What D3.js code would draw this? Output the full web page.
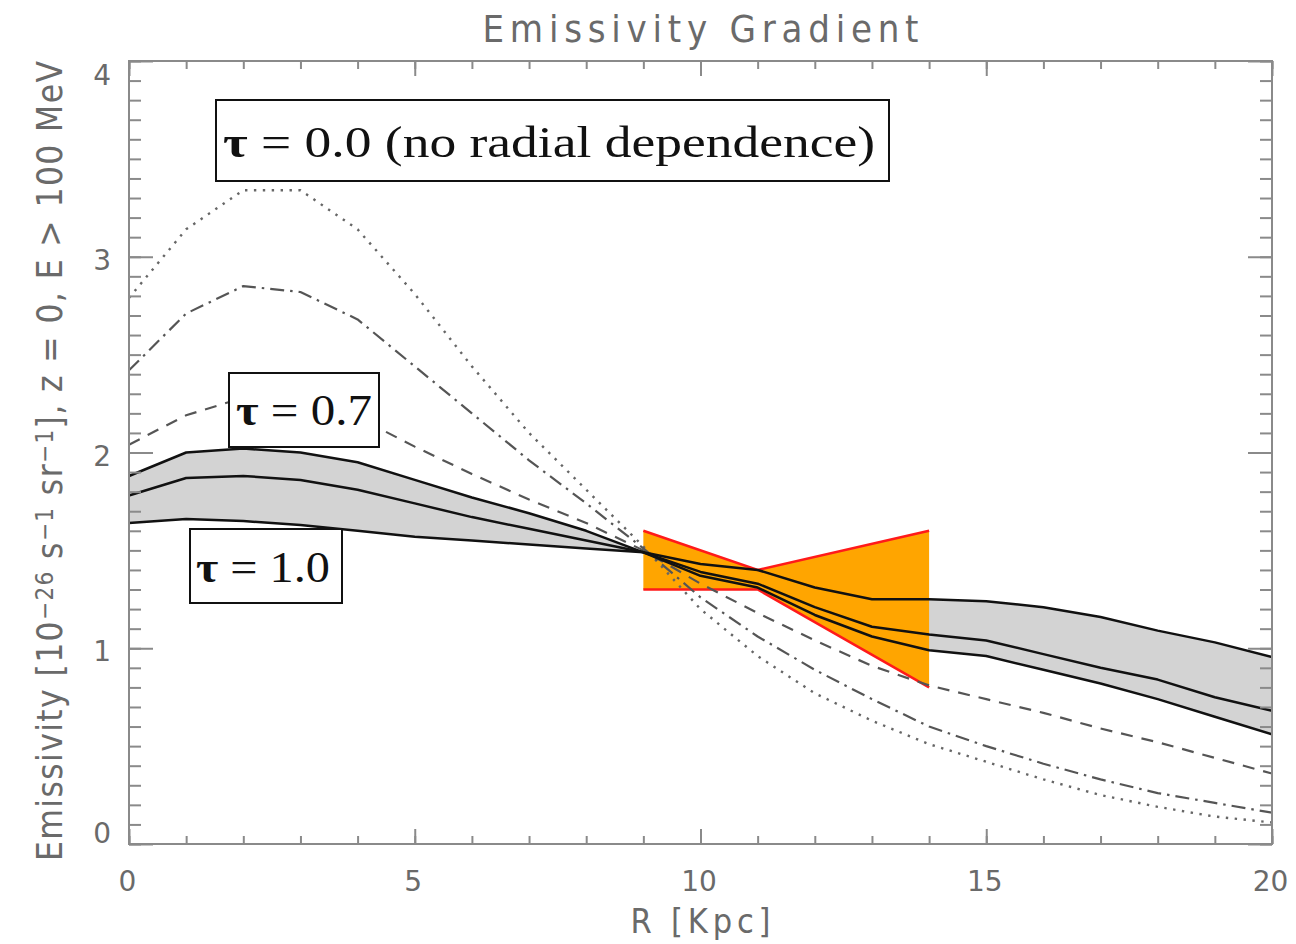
<!DOCTYPE html>
<html>
<head>
<meta charset="utf-8">
<script src="https://cdn.jsdelivr.net/npm/d3@7"></script>
<style>
  html, body { margin: 0; padding: 0; background: #fff; }
  svg { display: block; }
</style>
</head>
<body>
<svg id="chart" width="1296" height="944"></svg>
<script>
// Galactocentric radius grid (kpc)
const radius = [0, 1, 2, 3, 4, 5, 6, 7, 8, 9, 10, 11, 12, 13, 14, 15, 16, 17, 18, 19, 20];

// Emissivity curves, 10^-26 s^-1 sr^-1
const tau10Flat  = [1.64, 1.66, 1.65, 1.63, 1.60, 1.57, 1.55, 1.53, 1.51, 1.49, 1.43, 1.40, 1.31, 1.25, 1.25, 1.24, 1.21, 1.16, 1.09, 1.03, 0.955];
const tau10Mid   = [1.78, 1.87, 1.88, 1.86, 1.81, 1.74, 1.67, 1.61, 1.55, 1.49, 1.39, 1.33, 1.21, 1.11, 1.07, 1.04, 0.97, 0.90, 0.84, 0.75, 0.68];
const tau10Steep = [1.88, 2.00, 2.02, 2.00, 1.95, 1.86, 1.77, 1.69, 1.60, 1.49, 1.37, 1.31, 1.17, 1.06, 0.99, 0.96, 0.89, 0.82, 0.74, 0.65, 0.56];
const tau07      = [2.04, 2.19, 2.28, 2.27, 2.18, 2.03, 1.89, 1.76, 1.64, 1.50, 1.33, 1.18, 1.04, 0.91, 0.81, 0.74, 0.67, 0.59, 0.52, 0.44, 0.36];
const tau035     = [2.42, 2.71, 2.85, 2.82, 2.68, 2.44, 2.20, 1.96, 1.74, 1.51, 1.26, 1.06, 0.89, 0.74, 0.60, 0.50, 0.41, 0.33, 0.26, 0.21, 0.16];
const tau00      = [2.79, 3.14, 3.34, 3.34, 3.14, 2.81, 2.44, 2.10, 1.81, 1.52, 1.20, 0.96, 0.77, 0.63, 0.51, 0.42, 0.33, 0.25, 0.19, 0.14, 0.11];

// Measured gradient bow-tie
const bowR     = [9, 11, 14];
const bowUpper = [1.6, 1.4, 1.6];
const bowLower = [1.3, 1.3, 0.8];

// Ticks
const xMajorTicks = [0, 5, 10, 15, 20];
const xMinorTicks = [0, 1, 2, 3, 4, 5, 6, 7, 8, 9, 10, 11, 12, 13, 14, 15, 16, 17, 18, 19, 20];
const yMajorTicks = [0, 1, 2, 3, 4];
const yMinorTicks = [0, 0.1, 0.2, 0.3, 0.4, 0.5, 0.6, 0.7, 0.8, 0.9, 1, 1.1, 1.2, 1.3, 1.4, 1.5, 1.6, 1.7, 1.8, 1.9,
                     2, 2.1, 2.2, 2.3, 2.4, 2.5, 2.6, 2.7, 2.8, 2.9, 3, 3.1, 3.2, 3.3, 3.4, 3.5, 3.6, 3.7, 3.8, 3.9, 4];

const margin = { left: 129, right: 24, top: 61, bottom: 100 };
const W = 1296, H = 944;
const iw = W - margin.left - margin.right;
const ih = H - margin.top - margin.bottom;

const svg = d3.select("#chart");
const g = svg.append("g").attr("transform", `translate(${margin.left},${margin.top})`);

const x = d3.scaleLinear().domain([0, 20]).range([0, iw]);
const y = d3.scaleLinear().domain([0, 4]).range([ih, 0]);

const axisColor = "#8a8a8a";
const textColor = "#6a6a6a";
const sansFont = "'DejaVu Sans', sans-serif";

// Shaded tau = 1.0 band
const band = radius.map((r, i) => ({ r, a: tau10Flat[i], b: tau10Steep[i] }));
g.append("path")
  .datum(band)
  .attr("d", d3.area().x(d => x(d.r)).y0(d => y(d.a)).y1(d => y(d.b)))
  .attr("fill", "#d3d3d3");

// Bow-tie
const bow = bowR.map((r, i) => ({ r, lo: bowLower[i], hi: bowUpper[i] }));
g.append("path")
  .datum(bow)
  .attr("d", d3.area().x(d => x(d.r)).y0(d => y(d.lo)).y1(d => y(d.hi)))
  .attr("fill", "#ffa500");
[bowUpper, bowLower].forEach(vals => {
  g.append("path")
    .datum(bowR.map((r, i) => [r, vals[i]]))
    .attr("d", d3.line().x(d => x(d[0])).y(d => y(d[1])))
    .attr("fill", "none")
    .attr("stroke", "#ff1a1a")
    .attr("stroke-width", 2.5);
});

// Model curves
const line = d3.line().x(d => x(d[0])).y(d => y(d[1]));
const curves = [
  { vals: tau00,      stroke: "#666", width: 2.4, dash: "2.4,6.5", cap: "butt" },
  { vals: tau035,     stroke: "#555", width: 2.2, dash: "14,6,2.5,6" },
  { vals: tau07,      stroke: "#555", width: 2.2, dash: "12,9" },
  { vals: tau10Flat,  stroke: "#111", width: 2.5, dash: null },
  { vals: tau10Mid,   stroke: "#111", width: 2.5, dash: null },
  { vals: tau10Steep, stroke: "#111", width: 2.5, dash: null }
];
curves.forEach(c => {
  g.append("path")
    .datum(radius.map((r, i) => [r, c.vals[i]]))
    .attr("d", line)
    .attr("fill", "none")
    .attr("stroke", c.stroke)
    .attr("stroke-width", c.width)
    .attr("stroke-linejoin", "round")
    .attr("stroke-dasharray", c.dash);
});

// Axes: ticks drawn inward on all four sides
function styleAxis(sel) {
  sel.select(".domain").remove();
  sel.selectAll(".tick line").attr("stroke", axisColor).attr("stroke-width", 2);
}
g.append("g").attr("transform", `translate(0,${ih})`)
  .call(d3.axisBottom(x).tickValues(xMinorTicks).tickSize(-8).tickFormat(""))
  .call(styleAxis);
const xMaj = g.append("g").attr("transform", `translate(0,${ih})`)
  .call(d3.axisBottom(x).tickValues(xMajorTicks).tickSize(-15).tickPadding(27).tickFormat(d3.format("d")))
  .call(styleAxis);
xMaj.selectAll(".tick text")
  .attr("fill", textColor).attr("font-family", sansFont).attr("font-size", 28).attr("dx", -2);
g.append("g")
  .call(d3.axisTop(x).tickValues(xMinorTicks).tickSize(-8).tickFormat(""))
  .call(styleAxis);
g.append("g")
  .call(d3.axisTop(x).tickValues(xMajorTicks).tickSize(-15).tickFormat(""))
  .call(styleAxis);

g.append("g")
  .call(d3.axisLeft(y).tickValues(yMinorTicks).tickSize(-12).tickFormat(""))
  .call(styleAxis);
const yMaj = g.append("g")
  .call(d3.axisLeft(y).tickValues(yMajorTicks).tickSize(-24).tickPadding(18).tickFormat(d3.format("d")))
  .call(styleAxis);
yMaj.selectAll(".tick text")
  .attr("fill", textColor).attr("font-family", sansFont).attr("font-size", 28)
  .attr("dy", d => d === 0 ? "-0.05em" : d === 4 ? "0.85em" : "0.45em");
g.append("g").attr("transform", `translate(${iw},0)`)
  .call(d3.axisRight(y).tickValues(yMinorTicks).tickSize(-12).tickFormat(""))
  .call(styleAxis);
g.append("g").attr("transform", `translate(${iw},0)`)
  .call(d3.axisRight(y).tickValues(yMajorTicks).tickSize(-24).tickFormat(""))
  .call(styleAxis);

// Plot frame
g.append("rect")
  .attr("x", 0).attr("y", 0).attr("width", iw).attr("height", ih)
  .attr("fill", "none").attr("stroke", axisColor).attr("stroke-width", 2);

// Titles (condensed glyphs, spread out)
svg.append("text")
  .attr("x", margin.left + iw / 2).attr("y", 42)
  .attr("text-anchor", "middle")
  .attr("font-family", sansFont).attr("font-stretch", "condensed")
  .attr("font-size", 38).attr("fill", textColor)
  .attr("textLength", 436).attr("lengthAdjust", "spacing")
  .text("Emissivity Gradient");

svg.append("text")
  .attr("x", margin.left + iw / 2).attr("y", 933)
  .attr("text-anchor", "middle")
  .attr("font-family", sansFont).attr("font-stretch", "condensed")
  .attr("font-size", 34).attr("fill", textColor)
  .attr("textLength", 140).attr("lengthAdjust", "spacing")
  .text("R [Kpc]");

const yTitle = svg.append("text")
  .attr("transform", "translate(62,461) rotate(-90)")
  .attr("text-anchor", "middle")
  .attr("font-family", sansFont).attr("font-stretch", "condensed")
  .attr("font-size", 35).attr("fill", textColor)
  .attr("textLength", 800).attr("lengthAdjust", "spacing");
const yParts = [
  ["Emissivity [10", 0], ["\u221226", 1], [" s", 0], ["\u22121", 1], [" sr", 0], ["\u22121", 1], ["], z = 0, E > 100 MeV", 0]
];
yParts.forEach(([t, sup]) => {
  yTitle.append("tspan")
    .attr("baseline-shift", sup ? "38%" : null)
    .attr("font-size", sup ? 24 : null)
    .text(t);
});

// Curve labels in boxes
const labelFont = "'Liberation Serif', 'DejaVu Serif', serif";
const labels = [
  { text: " = 0.0 (no radial dependence)", x0: 216, y0: 100, x1: 889, y1: 181, tx: 223, ty: 157, len: 652, fs: 44 },
  { text: " = 0.7", x0: 229, y0: 373, x1: 379, y1: 447, tx: 236, ty: 425, len: 136, fs: 44 },
  { text: " = 1.0", x0: 190, y0: 529, x1: 342, y1: 603, tx: 196, ty: 582, len: 134, fs: 44 }
];
labels.forEach(l => {
  svg.append("rect")
    .attr("x", l.x0).attr("y", l.y0).attr("width", l.x1 - l.x0).attr("height", l.y1 - l.y0)
    .attr("fill", "#fff").attr("stroke", "#111").attr("stroke-width", 2);
  const t = svg.append("text")
    .attr("x", l.tx).attr("y", l.ty)
    .attr("font-family", labelFont).attr("font-size", l.fs).attr("fill", "#111")
    .attr("textLength", l.len).attr("lengthAdjust", "spacingAndGlyphs");
  t.append("tspan").attr("font-weight", "bold").text("\u03c4");
  t.append("tspan").text(l.text);
});
</script>
</body>
</html>
